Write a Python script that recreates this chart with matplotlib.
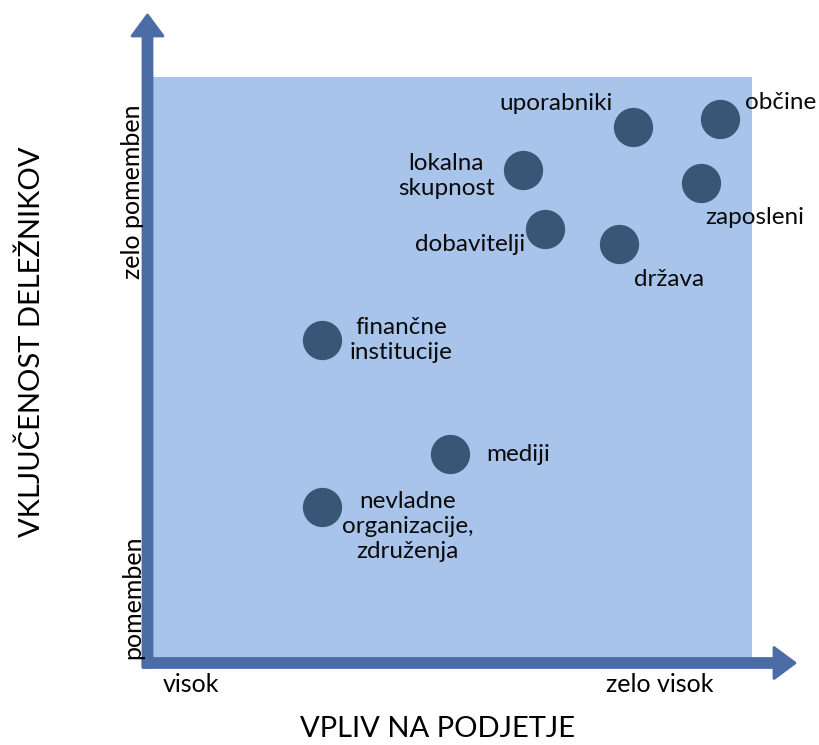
import matplotlib
matplotlib.use('Agg')
import matplotlib.pyplot as plt
from matplotlib.patches import FancyArrow
from matplotlib.transforms import IdentityTransform

plt.rcParams['font.family'] = ['Lato', 'DejaVu Sans']

# Data (0-10 scale)
names = ['uporabniki', 'občine', 'lokalna\nskupnost', 'zaposleni', 'dobavitelji',
         'država', 'finančne\ninstitucije', 'mediji', 'nevladne\norganizacije,\nzdruženja']
vpliv = [8.02, 9.47, 6.18, 9.15, 6.55, 7.78, 2.83, 4.97, 2.83]
vkljucenost = [9.14, 9.28, 8.40, 8.18, 7.39, 7.14, 5.49, 3.53, 2.62]
# label offsets in points and alignment
label_pos = [(-15, 17, 'right'), (18, 12, 'left'),
             (-55, -4, 'center'), (3, -25, 'left'),
             (-14, -11, 'right'), (11, -26, 'left'),
             (57, 0, 'center'), (26, 0, 'left'),
             (62, -14, 'center')]

x_ticks = ['visok', 'zelo visok']
y_ticks = ['pomemben', 'zelo pomemben']

fig = plt.figure(figsize=(8.19, 7.45), dpi=100)
ax = fig.add_axes([152 / 819, 85 / 745, 600 / 819, 583 / 745])
ax.set_facecolor('#a9c4ea')
ax.set_xlim(0, 10)
ax.set_ylim(0, 10)
for s in ax.spines.values():
    s.set_visible(False)
ax.set_xticks([])
ax.set_yticks([])

ax.scatter(vpliv, vkljucenost, s=800, color='#3a5677', zorder=3, linewidths=0)

for n, x, y, (dx, dy, ha) in zip(names, vpliv, vkljucenost, label_pos):
    ax.annotate(n, (x, y), xytext=(dx, dy), textcoords='offset points',
                ha=ha, va='center', fontsize=17.5, color='#0a0a0a', linespacing=1.25)

# axes arrows (in pixels)
arrow_col = '#4a6da6'
tr = IdentityTransform()
fig.add_artist(FancyArrow(147.5, 78, 0, 652, width=9, head_width=31, head_length=21,
                          length_includes_head=True, color=arrow_col, transform=tr,
                          joinstyle='round', lw=2))
fig.add_artist(FancyArrow(143, 82, 652, 0, width=9, head_width=31, head_length=21,
                          length_includes_head=True, color=arrow_col, transform=tr,
                          joinstyle='round', lw=2))

# tick labels
fig.text(163 / 819, 1 - 685 / 745, x_ticks[0], ha='left', va='center', fontsize=18)
fig.text(713 / 819, 1 - 685 / 745, x_ticks[1], ha='right', va='center', fontsize=18)
fig.text(133 / 819, 1 - 597 / 745, y_ticks[0], ha='center', va='center', fontsize=18, rotation=90)
fig.text(133 / 819, 1 - 192 / 745, y_ticks[1], ha='center', va='center', fontsize=18, rotation=90)

fig.text(437 / 819, 1 - 729 / 745, 'VPLIV NA PODJETJE', ha='center', va='center', fontsize=21)
fig.text(32 / 819, 1 - 342 / 745, 'VKLJUČENOST DELEŽNIKOV', ha='center', va='center',
         fontsize=21, rotation=90)

fig.savefig('out.png', dpi=100)
